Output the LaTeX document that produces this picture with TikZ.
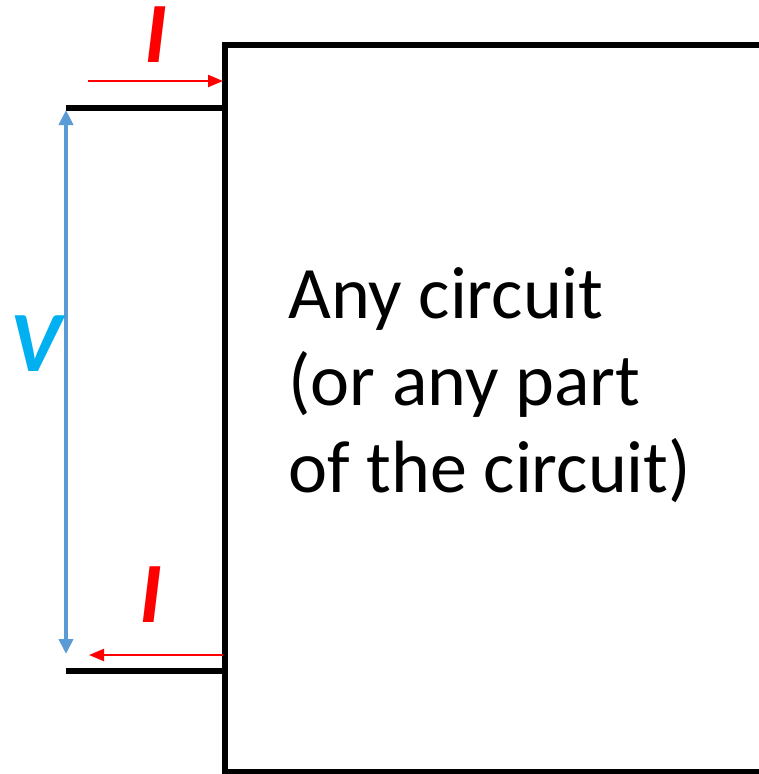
\documentclass[tikz,border=0pt]{standalone}
\usepackage{fontspec}
\setmainfont{Carlito}
\usetikzlibrary{arrows.meta}
\definecolor{curred}{HTML}{FF0000}
\definecolor{vblue}{HTML}{5B9BD5}
\definecolor{vcyan}{HTML}{00B0F0}
\tikzset{
  wire/.style={line width=5.5pt, line cap=butt},
  curarrow/.style={curred, line width=2.2pt, -{Triangle[length=15pt,width=12pt]}},
  varrow/.style={vblue, line width=4pt, {Triangle[length=15pt,width=14pt]}-{Triangle[length=15pt,width=14pt]}},
  sym/.style={inner sep=0pt, text height=55pt, text depth=0pt, font=\fontsize{86}{86}\selectfont\bfseries\itshape}
}
\begin{document}
\begin{tikzpicture}[x=1pt,y=-1pt]
\useasboundingbox (0,0) rectangle (759,774);
\begin{scope}
\clip (0,0) rectangle (759,774);
\draw[wire] (225,800) -- (225,45) -- (800,45);
\draw[wire] (225,772) -- (800,772);
\end{scope}
\coordinate (boxtop) at (225,45);
\coordinate (ua) at (66,108);
\coordinate (ub) at (225,108);
\coordinate (la) at (66,671);
\coordinate (lb) at (225,671);
\draw[wire] (ua) -- (ub);
\draw[wire] (la) -- (lb);
\coordinate (r1a) at (88,81);
\coordinate (r1b) at (223,81);
\coordinate (r2a) at (223,655);
\coordinate (r2b) at (89,655);
\draw[curarrow] (r1a) -- (r1b);
\draw[curarrow] (r2a) -- (r2b);
\coordinate (vt) at (66,110);
\coordinate (vb) at (66,654);
\draw[varrow] (vb) -- (vt);
\node[sym, text=curred, anchor=base] (i1) at (156,62) {I};
\node[sym, text=curred, anchor=base] (i2) at (151,622) {I};
\node[sym, text=vcyan, anchor=base] (v) at (36,371) {V};
\node[inner sep=0pt, anchor=base west, align=left, font=\fontsize{74}{87}\selectfont] (txt) at (288,492) {Any circuit\\(or any part\\of the circuit)};
\end{tikzpicture}
\end{document}
